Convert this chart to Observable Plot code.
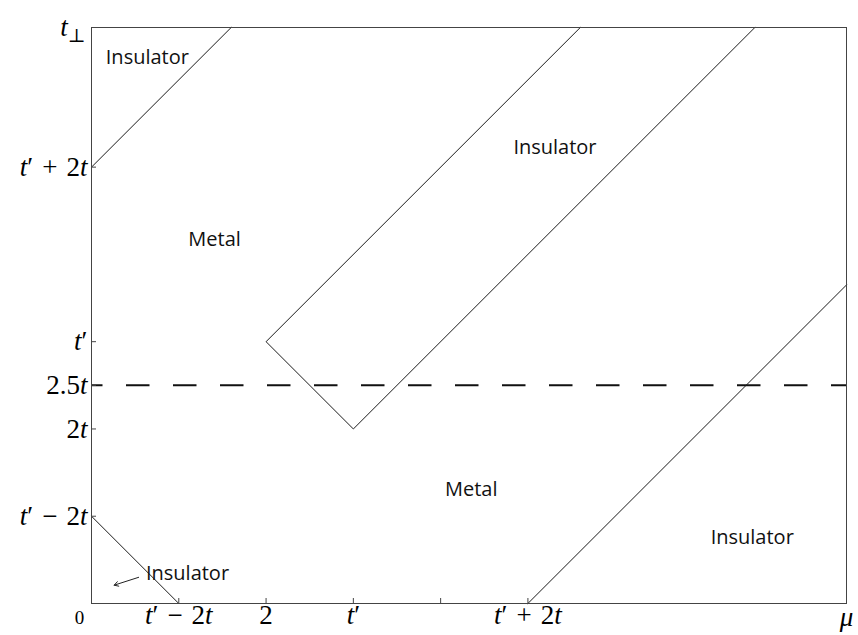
<!DOCTYPE html>
<html>
<head>
<meta charset="utf-8">
<script src="https://cdn.jsdelivr.net/npm/d3@7"></script>
<script src="https://cdn.jsdelivr.net/npm/@observablehq/plot@0.6"></script>
<style>
  body { margin: 0; background: #fff; }
</style>
</head>
<body>
<div id="chart"></div>
<script>
// Phase diagram in the (μ, t⊥) plane, in units of the hopping t (t′ = 3t).
const muMax = 8.65;
const tPerpMax = 6.6;

// Axis ticks and their labels
const xTickValues = [1, 2, 3, 4, 5];
const xTickLabels = ["t′ − 2t", "2", "t′", "", "t′ + 2t"];
const yTickValues = [1, 2, 2.5, 3, 5];
const yTickLabels = ["t′ − 2t", "2t", "2.5t", "t′", "t′ + 2t"];
const xAxisName = "μ";
const yAxisName = "t⊥";
const originLabel = "0";

// Phase boundaries, one polyline per id
const boundaryId    = [0, 0,   1,   1, 1, 1,   2, 2, 3, 3];
const boundaryMu    = [0, 1.6, 5.6, 2, 3, 7.6, 0, 1, 5, 8.65];
const boundaryTperp = [5, 6.6, 6.6, 3, 2, 6.6, 1, 0, 0, 3.65];

// Reference cut t⊥ = 2.5t
const cutTperp = [2.5];

// Phase names
const regionNames = ["Insulator", "Metal", "Insulator", "Metal", "Insulator", "Insulator"];
const regionMu    = [0.64, 1.41, 5.31, 4.35, 7.57, 1.10];
const regionTperp = [6.26, 4.17, 5.22, 1.30, 0.76, 0.34];

// Pointer from the small corner phase label to its region
const pointerMu1 = [0.54], pointerT1 = [0.30];
const pointerMu2 = [0.26], pointerT2 = [0.21];

const boundaries = boundaryId.map((id, i) => ({id, mu: boundaryMu[i], tperp: boundaryTperp[i]}));
const xTicks = xTickValues.map((v, i) => ({v, label: xTickLabels[i]}));
const yTicks = yTickValues.map((v, i) => ({v, label: yTickLabels[i]}));
const regions = regionNames.map((name, i) => ({name, mu: regionMu[i], tperp: regionTperp[i]}));
const pointer = pointerMu1.map((m, i) => ({x1: m, y1: pointerT1[i], x2: pointerMu2[i], y2: pointerT2[i]}));

const mathFont = "'Liberation Serif', 'DejaVu Serif', serif";
const textFont = "'Open Sans', 'Noto Sans', sans-serif";

const chart = Plot.plot({
  width: 858,
  height: 635,
  marginLeft: 91,
  marginRight: 12,
  marginTop: 27,
  marginBottom: 32,
  x: {domain: [0, muMax], axis: null},
  y: {domain: [0, tPerpMax], axis: null},
  style: {background: "#fff", overflow: "visible"},
  marks: [
    Plot.ruleY(cutTperp, {y: d => d, stroke: "#111", strokeWidth: 2, strokeDasharray: "23.5,23.5", strokeDashoffset: 12}),
    Plot.line(boundaries, {x: "mu", y: "tperp", z: "id", stroke: "#1a1a1a", strokeWidth: 1}),
    Plot.ruleX(xTicks, {x: "v", y1: 0, y2: 0, insetTop: -5, stroke: "#444"}),
    Plot.ruleY(yTicks, {y: "v", x1: 0, x2: 0, insetRight: -5, stroke: "#444"}),
    Plot.frame({stroke: "#444"}),
    Plot.text(regions, {x: "mu", y: "tperp", text: "name", fontFamily: textFont, fontSize: 20, fill: "#111"}),
    Plot.arrow(pointer, {x1: "x1", y1: "y1", x2: "x2", y2: "y2", stroke: "#222", strokeWidth: 1, headLength: 7}),
    Plot.text(xTicks, {x: "v", frameAnchor: "bottom", dy: 20, text: "label", className: "math", fontFamily: mathFont, fontSize: 27, fill: "#000"}),
    Plot.text(yTicks, {y: "v", frameAnchor: "left", dx: -4, textAnchor: "end", text: "label", className: "math", fontFamily: mathFont, fontSize: 27, fill: "#000"}),
    Plot.text([yAxisName], {y: tPerpMax, frameAnchor: "left", dx: -6, textAnchor: "end", text: d => d, className: "math", fontFamily: mathFont, fontSize: 27, fill: "#000"}),
    Plot.text([xAxisName], {x: muMax, frameAnchor: "bottom", dy: 22, text: d => d, className: "math", fontFamily: mathFont, fontSize: 27, fill: "#000"}),
    Plot.text([originLabel], {x: 0, y: 0, dx: -12, dy: 14, text: d => d, fontFamily: mathFont, fontSize: 19, fill: "#000"})
  ]
});

// Typeset math labels: italic letters, upright digits/operators, wider operator spacing, subscript ⊥
const svgns = "http://www.w3.org/2000/svg";
chart.querySelectorAll(".math text").forEach(el => {
  const s = el.textContent;
  el.textContent = "";
  el.style.whiteSpace = "pre";
  for (const ch of s) {
    const ts = document.createElementNS(svgns, "tspan");
    ts.textContent = ch === " " ? "\u2004" : ch;
    if (/[a-zμ]/.test(ch)) ts.setAttribute("font-style", "italic");
    if (ch === "⊥") {
      ts.setAttribute("font-size", "0.7em");
      ts.setAttribute("dy", "0.3em");
      ts.setAttribute("font-family", "'DejaVu Serif', serif");
    }
    el.appendChild(ts);
  }
});

document.getElementById("chart").appendChild(chart);
</script>
</body>
</html>
